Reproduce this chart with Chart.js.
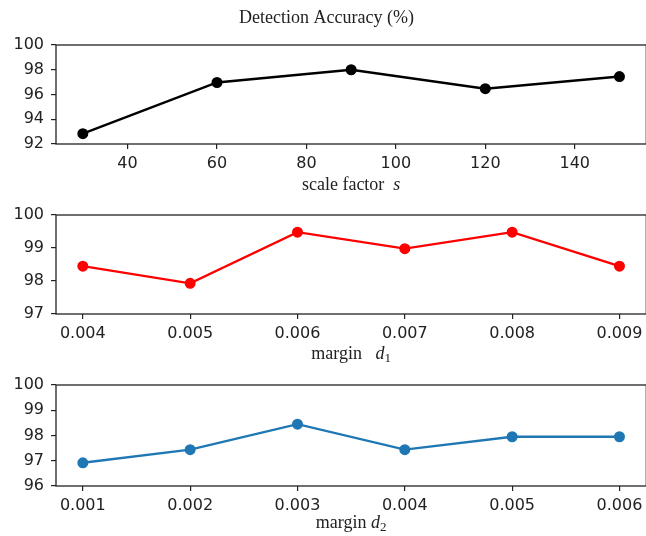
<!DOCTYPE html>
<html>
<head>
<meta charset="utf-8">
<script src="https://cdn.jsdelivr.net/npm/chart.js@4"></script>
<style>
  html, body { margin: 0; padding: 0; background: #fff; overflow: hidden; }
  #wrap { position: relative; width: 646px; height: 536px; overflow: hidden; background: #fff; }
  .box { position: absolute; left: 0; }
</style>
</head>
<body>
<div id="wrap">
  <div class="box" style="top:0px"><canvas id="c1" width="653" height="202"></canvas></div>
  <div class="box" style="top:195px"><canvas id="c2" width="653" height="177"></canvas></div>
  <div class="box" style="top:365px"><canvas id="c3" width="653" height="179"></canvas></div>
</div>
<script>
// scale factor s
let scaleS = [30, 60, 90, 120, 150];
let accS = [92.83, 96.97, 98.0, 96.47, 97.45];
let ticksXS = [40, 60, 80, 100, 120, 140];
let ticksYS = [92, 94, 96, 98, 100];

// margin d1
let marginD1 = [0.004, 0.005, 0.006, 0.007, 0.008, 0.009];
let accD1 = [98.45, 97.93, 99.48, 98.98, 99.48, 98.45];
let ticksXD1 = [0.004, 0.005, 0.006, 0.007, 0.008, 0.009];
let ticksYD1 = [97, 98, 99, 100];

// margin d2
let marginD2 = [0.001, 0.002, 0.003, 0.004, 0.005, 0.006];
let accD2 = [96.92, 97.44, 98.45, 97.44, 97.95, 97.95];
let ticksXD2 = [0.001, 0.002, 0.003, 0.004, 0.005, 0.006];
let ticksYD2 = [96, 97, 98, 99, 100];

let titleText = "Detection Accuracy (%)";
let ink = "#222";
let tickFont = { family: "DejaVu Sans", size: 16 };
let serif = "'Liberation Serif', serif";

// axis frame (all four spines)
let framePlugin = {
  id: "frame",
  afterDraw(chart) {
    let a = chart.chartArea;
    let ctx = chart.ctx;
    ctx.save();
    ctx.strokeStyle = ink;
    ctx.lineWidth = 1.3;
    ctx.strokeRect(a.left, a.top, a.right - a.left, a.bottom - a.top);
    ctx.restore();
  },
};

// x label with mixed upright / italic / subscript pieces
let xLabelPlugin = {
  id: "xlabel",
  afterDraw(chart, args, opts) {
    let a = chart.chartArea;
    let ctx = chart.ctx;
    ctx.save();
    ctx.fillStyle = ink;
    ctx.textBaseline = "alphabetic";
    let total = 0;
    opts.parts.forEach((p) => {
      ctx.font = p.font;
      total += ctx.measureText(p.text).width;
    });
    let x = (a.left + a.right) / 2 - total / 2;
    let y = a.bottom + opts.offset;
    opts.parts.forEach((p) => {
      ctx.font = p.font;
      ctx.fillText(p.text, x, y + (p.dy || 0));
      x += ctx.measureText(p.text).width;
    });
    ctx.restore();
  },
};

function makeChart(id, xs, ys, color, xTicks, yTicks, xMin, xMax, xFmt, opts) {
  return new Chart(document.getElementById(id), {
    type: "line",
    data: {
      datasets: [
        {
          data: xs.map((x, i) => ({ x: x, y: ys[i] })),
          borderColor: color,
          backgroundColor: color,
          borderWidth: 2.4,
          pointRadius: 4.3,
          pointHoverRadius: 4.3,
          tension: 0,
        },
      ],
    },
    options: {
      responsive: false,
      animation: false,
      layout: { padding: { top: opts.padTop, bottom: 30, left: 0, right: 0 } },
      plugins: {
        legend: { display: false },
        tooltip: { enabled: false },
        title: opts.title
          ? {
              display: true,
              text: opts.title,
              color: ink,
              font: { family: serif, size: 18, weight: "normal", lineHeight: 1.2 },
              padding: { top: 7, bottom: 16.4 },
            }
          : { display: false },
        xlabel: { parts: opts.xParts, offset: opts.labelOffset },
      },
      scales: {
        x: {
          type: "linear",
          min: xMin,
          max: xMax,
          afterBuildTicks: (s) => { s.ticks = xTicks.map((v) => ({ value: v })); },
          afterFit: (s) => { s.height = 28; },
          grid: { drawOnChartArea: false, tickLength: 5, color: ink, lineWidth: 1.2 },
          border: { display: false },
          ticks: { color: ink, font: tickFont, padding: 5, maxRotation: 0, callback: (v) => xFmt(v) },
        },
        y: {
          min: yTicks[0],
          max: yTicks[yTicks.length - 1],
          afterBuildTicks: (s) => { s.ticks = yTicks.map((v) => ({ value: v })); },
          afterFit: (s) => { s.width = 56; },
          grid: { drawOnChartArea: false, tickLength: 5, color: ink, lineWidth: 1.2 },
          border: { display: false },
          ticks: { color: ink, font: tickFont, padding: 7, callback: (v) => String(v) },
        },
      },
    },
    plugins: [framePlugin, xLabelPlugin],
  });
}

makeChart("c1", scaleS, accS, "#000000", ticksXS, ticksYS, 24, 156, (v) => String(v), {
  padTop: 0,
  title: titleText,
  labelOffset: 46,
  xParts: [
    { text: "scale factor  ", font: "18px " + serif },
    { text: "s", font: "italic 18px " + serif },
  ],
});

makeChart("c2", marginD1, accD1, "#ff0000", ticksXD1, ticksYD1, 0.00375, 0.00925, (v) => v.toFixed(3), {
  padTop: 20,
  labelOffset: 45,
  xParts: [
    { text: "margin   ", font: "18px " + serif },
    { text: "d", font: "italic 18px " + serif },
    { text: "1", font: "13px " + serif, dy: 3 },
  ],
});

makeChart("c3", marginD2, accD2, "#1f77b4", ticksXD2, ticksYD2, 0.00075, 0.00625, (v) => v.toFixed(3), {
  padTop: 20,
  labelOffset: 42,
  xParts: [
    { text: "margin ", font: "18px " + serif },
    { text: "d", font: "italic 18px " + serif },
    { text: "2", font: "13px " + serif, dy: 3 },
  ],
});
</script>
</body>
</html>
